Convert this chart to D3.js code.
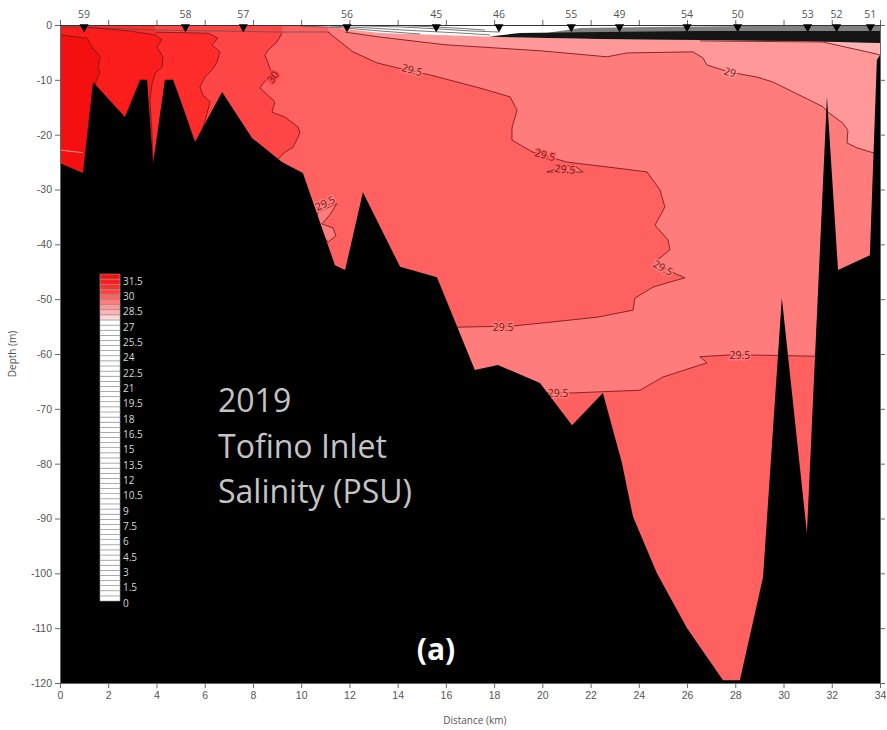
<!DOCTYPE html>
<html>
<head>
<meta charset="utf-8">
<script src="https://cdn.jsdelivr.net/npm/d3@7"></script>
<style>
  body { margin: 0; background: #fff; }
  svg { display: block; font-family: "Open Sans", sans-serif; }
</style>
</head>
<body>
<script>
/* Stations along the inlet, km from the head */
var stationNames = ["59", "58", "57", "56", "45", "46", "55", "49", "54", "50", "53", "52", "51"];
var stationKm = [1.0, 5.2, 7.6, 11.9, 15.6, 18.2, 21.2, 23.2, 26.0, 28.1, 31.0, 32.2, 33.6];

var xTicks = d3.range(0, 35, 2);
var yTicks = d3.range(0, -121, -10);

/* Seafloor profile */
var seabedKm = [0, 0.95, 1.37, 2.69, 3.32, 3.61, 3.86, 4.35, 4.69, 5.10, 5.60, 6.72, 7.96, 9.20, 10.07, 11.40, 11.82, 12.56, 14.10, 15.63,
                17.2, 18.16, 19.9, 21.23, 22.51, 23.3, 23.76, 24.75, 26.0, 27.49, 28.19, 29.15, 29.93, 30.97, 31.80, 32.26, 33.58, 33.87, 34];
var seabedDepth = [-25.2, -27.0, -10.4, -16.8, -10.0, -10.0, -25.2, -10.0, -10.0, -15.0, -21.3, -12.2, -20.6, -25.0, -27.0, -43.8, -44.7, -30.5, -44.1, -46.0,
                   -62.9, -62.0, -65.3, -73.0, -67.1, -79.9, -89.7, -100, -110.0, -119.5, -119.5, -100.7, -49.8, -92.7, -13.1, -44.7, -42.0, -6.4, -5.5];

/* Salinity bands (lower bound) and their colours, shared by plot and legend */
var bandFloors = [27.5, 28, 28.5, 29, 29.5, 30, 30.5, 31, 31.5];
var bandColors = ["#ffd8d8", "#ffb4b4", "#ff9898", "#ff7c7c", "#ff6060", "#ff4646", "#ff2c2c", "#fb1c1c", "#f41010"];

/* Contour lines [km, depth] */
var line315 = [[0,-1.8],[1.12,-2.4],[1.33,-4.0],[1.66,-5.8],[1.58,-7.7],[1.66,-8.6],[1.49,-10.4],[1.41,-13.7]];
var line31 = [[1.16,-0.4],[2.9,-1.1],[3.94,-1.8],[4.23,-2.7],[4.02,-4.0],[4.27,-5.8],[4.23,-7.7],[3.94,-8.8],[3.81,-10.9],[3.73,-13.7],[3.81,-19.2],[3.86,-25.5]];
var line305 = [[3.94,-1.3],[6.14,-1.5],[6.55,-2.4],[6.3,-3.6],[6.63,-4.9],[6.51,-6.8],[6.3,-8.2],[6.01,-9.5],[5.8,-11.3],[5.93,-12.8],[6.22,-14.0],[6.1,-16.1],[5.89,-19.2],[5.68,-21.3],[5.6,-24.6]];
var line30 = [[9.2,-1.5],[9.0,-3.1],[8.62,-4.6],[8.5,-5.5],[8.62,-6.9],[8.79,-8.9],[8.37,-10.9],[8.29,-11.5],[8.62,-12.8],[8.91,-14.0],[8.79,-15.9],[9.33,-16.8],[9.87,-18.6],[9.95,-19.7],[9.66,-22.3],[9.33,-23.2],[8.91,-25.0]];
var line295 = [[11.11,-1.3],[12.15,-4.9],[13.14,-6.9],[13.97,-7.8],[15.34,-9.1],[17.41,-11.5],[18.66,-13.1],[18.95,-15.5],[18.74,-18.8],[18.74,-21.0],[19.61,-23.2],[21.02,-25.0],[23.09,-26.1],[24.34,-26.8],[24.88,-30.1],[25.08,-33.2],[24.67,-36.5],[25.21,-39.2],[25.29,-41.0],[24.67,-43.2],[25.2,-44.7],[25.91,-46.1],[25.2,-47.0],[24.59,-47.8],[23.84,-49.8],[23.76,-52.0],[22.26,-53.3],[20.32,-54.2],[18.78,-54.9],[16.58,-55.1],[16.17,-55.3]];
var line29 = [[11.82,-1.3],[13.27,-2.2],[15.96,-3.6],[19.9,-4.7],[22.68,-5.8],[23.51,-5.1],[26.24,-4.9],[26.66,-6.0],[26.82,-7.3],[27.78,-8.6],[28.9,-9.5],[29.56,-10.4],[31.63,-14.9],[31.84,-15.9],[32.46,-17.9],[32.67,-19.2],[32.63,-21.5],[33.04,-22.4],[33.71,-23.3],[34,-23.3]];
var line285 = [[26.53,-2.9],[31.63,-3.1],[33.87,-5.3],[34,-5.5]];
var lower295 = [[20.15,-67.1],[21.27,-67.1],[24.05,-66.6],[25.0,-64.2],[26.83,-61.6],[26.53,-60.5],[27.65,-60.2],[28.9,-60.2],[31.22,-60.4],[34,-60.4]];
var lens295 = [[20.19,-26.8],[20.73,-26.1],[21.27,-25.5],[21.69,-26.8],[20.94,-26.9]];
var wedge295 = [[10.57,-36.5],[10.70,-34.1],[11.48,-32.6],[11.19,-34.6],[10.86,-36.3],[11.32,-37.0],[11.44,-38.5],[11.11,-39.6]];
var nearBottom = [[0,-22.8],[0.95,-23.3]];

/* Fresh surface layer */
var surfaceEdge = [[9.95,-0.09],[11.19,-0.36],[13.27,-1.46],[15.76,-1.82],[18.24,-2.19],[22.39,-2.55],[26.53,-2.74],[30.68,-2.92],[34,-3.28]];
var grayTop = [[19.9,-1.64],[21.56,-0.55],[24.46,-0.36],[28.61,-0.18],[34,-0.09]];
var darkTop = [[17.8,-2.1],[19.07,-1.46],[22.39,-1.28],[26.53,-1.09],[30.68,-1.09],[34,-1.09]];
var surfLines = [
  [[0,-0.36],[3.94,-0.91],[9.12,-1.28],[11.19,-1.28]],
  [[9.95,-0.18],[11.61,-0.46],[13.27,-1.09],[14.93,-1.64]],
  [[11.19,-0.18],[12.85,-0.55],[14.93,-1.09],[16.58,-1.46],[17.83,-1.82]],
  [[12.02,-0.09],[14.1,-0.36],[15.76,-0.73],[17.0,-1.09],[18.24,-1.28]],
  [[13.89,-0.05],[15.13,-0.27],[16.38,-0.55],[17.62,-0.91]]
];

/* Contour labels */
var labelText = ["30", "29.5", "29", "29.5", "29.5", "29.5", "29.5", "29.5", "29.5", "29.5"];
var labelKm = [8.83, 14.59, 27.78, 20.11, 20.94, 10.99, 25.0, 18.37, 20.65, 28.19];
var labelDepth = [-9.5, -8.2, -8.6, -23.7, -26.3, -32.5, -44.3, -55.1, -67.1, -60.2];
var labelAngle = [-55, 15, 15, 15, 5, -25, 30, 0, 0, 0];
var labelBand = [30, 29, 28.5, 29.5, 29.5, 29, 29, 29, 29, 29];

var legendSteps = d3.range(0, 32, 0.5);
var legendTicks = d3.range(0, 32, 1.5);
var titleLines = ["2019", "Tofino Inlet", "Salinity (PSU)"];

var margin = {top: 25, right: 7, bottom: 47, left: 60},
    width = 887 - margin.left - margin.right,
    height = 730 - margin.top - margin.bottom;

var x = d3.scaleLinear().domain([0, 34]).range([0, width]);
var y = d3.scaleLinear().domain([0, -120]).range([0, height]);

function band(v) { return bandColors[bandFloors.indexOf(v)]; }

var svg = d3.select("body").append("svg")
    .attr("width", width + margin.left + margin.right)
    .attr("height", height + margin.top + margin.bottom);

var g = svg.append("g")
    .attr("transform", "translate(" + margin.left + "," + margin.top + ")");

g.append("clipPath").attr("id", "plot")
  .append("rect").attr("width", width).attr("height", height);

var plot = g.append("g").attr("clip-path", "url(#plot)");

var line = d3.line().x(function(d){ return x(d[0]); }).y(function(d){ return y(d[1]); });
function poly(pts) { return line(pts) + "Z"; }

// close a contour towards the head of the inlet (left side)
function closeLeft(pts, deep) {
    var last = pts[pts.length - 1];
    return pts.concat([[last[0], deep], [0, deep], [0, 0], [pts[0][0], 0]]);
}
function closeTopRight(pts) { return pts.concat([[34, 0], [pts[0][0], 0]]); }
function closeBottomRight(pts) { return pts.concat([[34, -120], [pts[0][0], -120]]); }
function between(upper, lower) {
    return upper.concat(lower.filter(function(p){ return p[0] > upper[0][0]; }).reverse());
}

// filled bands, painted from fresh to salty
var fills = [
    {pts: [[0,0],[34,0],[34,-120],[0,-120]], v: 29},
    {pts: closeTopRight(line29), v: 28.5},
    {pts: closeTopRight(line285), v: 28},
    {pts: closeLeft(line295, -70), v: 29.5},
    {pts: closeBottomRight(lower295), v: 29.5},
    {pts: lens295, v: 29},
    {pts: wedge295, v: 29},
    {pts: closeLeft(line30, -40), v: 30},
    {pts: closeLeft(line305, -40), v: 30.5},
    {pts: closeLeft(line31, -40), v: 31},
    {pts: closeLeft(line315, -40), v: 31.5}
];

plot.selectAll(".band")
    .data(fills)
    .enter().append("path")
    .attr("class", "band")
    .attr("d", function(d){ return poly(d.pts); })
    .attr("fill", function(d){ return band(d.v); });

// surface freshwater layer
plot.append("path").attr("d", poly(surfaceEdge.concat([[34, 0], [surfaceEdge[0][0], 0]]))).attr("fill", "#fff");
plot.append("path").attr("d", poly(between(grayTop, surfaceEdge))).attr("fill", "#808080");
plot.append("path").attr("d", poly(between(darkTop, surfaceEdge))).attr("fill", "#151515");
plot.selectAll(".surf")
    .data(surfLines)
    .enter().append("path")
    .attr("class", "surf")
    .attr("d", line)
    .attr("fill", "none")
    .attr("stroke", "#555")
    .attr("stroke-width", 0.8);

// contour lines
var contours = [line315, line31, line305, line30, line295, line29, line285, lower295];
plot.selectAll(".contour")
    .data(contours)
    .enter().append("path")
    .attr("class", "contour")
    .attr("d", line)
    .attr("fill", "none")
    .attr("stroke", "#7a1c1c")
    .attr("stroke-width", 0.9);
plot.selectAll(".loop")
    .data([lens295, wedge295])
    .enter().append("path")
    .attr("class", "loop")
    .attr("d", poly)
    .attr("fill", "none")
    .attr("stroke", "#7a1c1c")
    .attr("stroke-width", 0.9);
plot.append("path")
    .attr("d", line(nearBottom))
    .attr("fill", "none")
    .attr("stroke", "#ffb0b0")
    .attr("stroke-width", 0.8);

// contour labels
plot.selectAll(".clabel")
    .data(labelText)
    .enter().append("text")
    .attr("class", "clabel")
    .attr("transform", function(d, i){
        return "translate(" + x(labelKm[i]) + "," + y(labelDepth[i]) + ") rotate(" + labelAngle[i] + ")";
    })
    .attr("text-anchor", "middle")
    .attr("dy", "0.35em")
    .attr("font-size", 10.5)
    .attr("fill", "#6e1616")
    .attr("stroke", function(d, i){ return band(labelBand[i]); })
    .attr("stroke-width", 3)
    .attr("paint-order", "stroke")
    .text(function(d){ return d; });

// seafloor
var seabed = seabedKm.map(function(k, i){ return [k, seabedDepth[i]]; });
plot.append("path")
    .attr("d", poly(seabed.concat([[34, -120], [0, -120]])))
    .attr("fill", "#000");

// axes
function styleAxis(sel) {
    sel.select(".domain").attr("stroke", "#666");
    sel.selectAll(".tick line").attr("stroke", "#666");
    sel.selectAll(".tick text").attr("fill", "#555").attr("font-size", 10.5);
}

g.append("g")
    .attr("transform", "translate(0," + height + ")")
    .call(d3.axisBottom(x).tickValues(xTicks).tickSize(5).tickPadding(4).tickFormat(function(d){ return d; }))
    .call(styleAxis);

g.append("g")
    .call(d3.axisLeft(y).tickValues(yTicks).tickSize(5).tickPadding(3).tickFormat(function(d){ return String(d); }))
    .call(styleAxis);

g.append("g")
    .attr("transform", "translate(" + width + ",0)")
    .call(d3.axisRight(y).tickValues(yTicks).tickSize(5).tickFormat(""))
    .call(styleAxis);

g.append("g")
    .call(d3.axisTop(x).tickValues(xTicks).tickSize(5).tickFormat(""))
    .call(styleAxis)
    .select(".domain").attr("stroke", "#333");

// station markers
var sym = d3.symbol().type(d3.symbolTriangle).size(36);
g.selectAll(".station")
    .data(stationKm)
    .enter().append("path")
    .attr("class", "station")
    .attr("d", sym)
    .attr("transform", function(d){ return "translate(" + x(d) + ",2) rotate(180)"; })
    .attr("fill", "#000");

g.selectAll(".stationLabel")
    .data(stationNames)
    .enter().append("text")
    .attr("class", "stationLabel")
    .attr("x", function(d, i){ return x(stationKm[i]); })
    .attr("y", -7)
    .attr("text-anchor", "middle")
    .attr("font-size", 10.5)
    .attr("fill", "#555")
    .text(function(d){ return d; });

// axis titles
svg.append("text")
    .attr("transform", "translate(16," + (margin.top + y(-60)) + ") rotate(-90)")
    .attr("text-anchor", "middle")
    .attr("font-size", 10)
    .attr("fill", "#555")
    .text("Depth (m)");

svg.append("text")
    .attr("x", margin.left + x(17.2))
    .attr("y", 724)
    .attr("text-anchor", "middle")
    .attr("font-size", 10)
    .attr("fill", "#555")
    .text("Distance (km)");

// colour legend
var ls = d3.scaleLinear().domain([0, 32]).range([601, 274]);
var legend = svg.append("g").attr("transform", "translate(100,0)");
legend.selectAll("rect")
    .data(legendSteps)
    .enter().append("rect")
    .attr("x", 0)
    .attr("y", function(d){ return ls(d + 0.5); })
    .attr("width", 20)
    .attr("height", function(d){ return ls(d) - ls(d + 0.5); })
    .attr("fill", function(d){ return bandFloors.indexOf(d) >= 0 ? band(d) : "#fff"; })
    .attr("stroke", "#9a9a9a")
    .attr("stroke-width", 0.6);

legend.selectAll("text")
    .data(legendTicks)
    .enter().append("text")
    .attr("x", 23)
    .attr("y", function(d){ return ls(d) + 2; })
    .attr("dy", "0.35em")
    .attr("font-size", 10)
    .attr("fill", "#d8d8d8")
    .text(function(d){ return d; });

// title block
svg.selectAll(".title")
    .data(titleLines)
    .enter().append("text")
    .attr("class", "title")
    .attr("x", 218)
    .attr("y", function(d, i){ return 412 + i * 45.5; })
    .attr("font-size", 32)
    .attr("fill", "#c4c4c4")
    .text(function(d){ return d; });

svg.append("text")
    .attr("x", 436)
    .attr("y", 660)
    .attr("text-anchor", "middle")
    .attr("font-size", 30)
    .attr("font-weight", "bold")
    .attr("fill", "#fff")
    .text("(a)");
</script>
</body>
</html>
